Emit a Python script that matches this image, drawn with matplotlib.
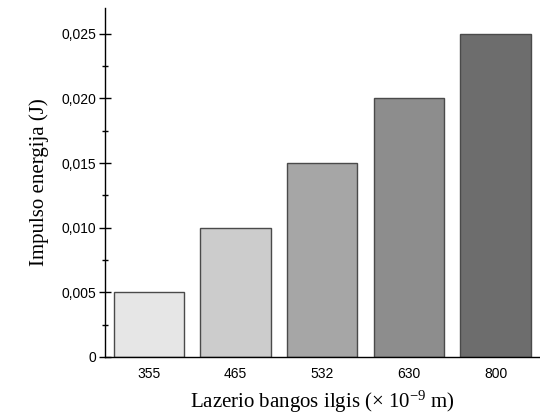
import matplotlib
matplotlib.use("Agg")
import matplotlib.pyplot as plt
from matplotlib.ticker import FuncFormatter, MultipleLocator

plt.rcParams["mathtext.fontset"] = "custom"
plt.rcParams["mathtext.rm"] = "Liberation Serif"
plt.rcParams["mathtext.it"] = "Liberation Serif:italic"

wavelengths = ["355", "465", "532", "630", "800"]
energy = [0.005, 0.010, 0.015, 0.020, 0.025]
bar_colors = ["#e6e6e6", "#cccccc", "#a6a6a6", "#8d8d8d", "#6d6d6d"]

fig = plt.figure(figsize=(5.4, 4.15), dpi=100)
ax = fig.add_axes([0.195, 0.140, 0.803, 0.841])

x = range(len(wavelengths))
ax.bar(x, energy, width=0.81, color=bar_colors, edgecolor="#4a4a4a", linewidth=1.0, zorder=2)

ax.set_xlim(-0.5, 4.5)
ax.set_ylim(0, 0.027)
ax.set_xticks(list(x))
ax.set_xticklabels(wavelengths, family="Liberation Sans", fontsize=10)
ax.tick_params(axis="x", length=0, pad=7)

ax.yaxis.set_major_locator(MultipleLocator(0.005))
ax.yaxis.set_minor_locator(MultipleLocator(0.0025))
ax.yaxis.set_major_formatter(FuncFormatter(lambda v, p: "0" if abs(v) < 1e-12 else f"{v:.3f}".replace(".", ",")))
ax.tick_params(axis="y", which="major", direction="inout", length=9, width=1.0, labelsize=10, pad=2)
ax.tick_params(axis="y", which="minor", direction="inout", length=4.8, width=1.0)
for lab in ax.get_yticklabels():
    lab.set_family("Liberation Sans")

for side in ("top", "right"):
    ax.spines[side].set_visible(False)
for side in ("left", "bottom"):
    ax.spines[side].set_linewidth(1.0)

ax.set_ylabel("Impulso energija (J)", family="Liberation Serif", fontsize=15, labelpad=9)
ax.set_xlabel("Lazerio bangos ilgis (× 10$^{-9}$ m)", family="Liberation Serif", fontsize=15, labelpad=6)

fig.savefig("out.png", dpi=100)
